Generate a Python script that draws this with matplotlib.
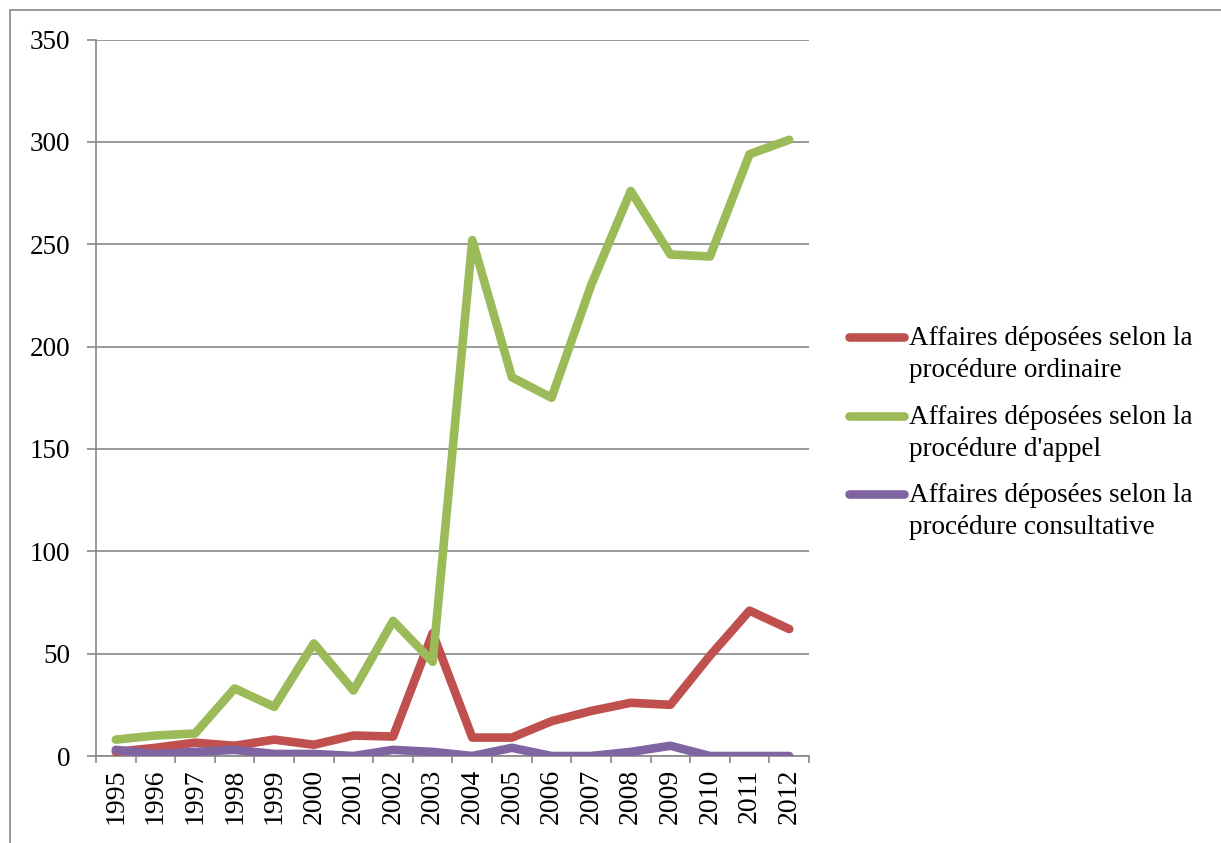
import numpy as np
import matplotlib.pyplot as plt
from matplotlib.lines import Line2D
from matplotlib.patches import Rectangle

years = [str(y) for y in range(1995, 2013)]
ordinaire = [2, 4, 6.5, 5, 8, 5.5, 10, 9.5, 60, 9, 9, 17, 22, 26, 25, 49, 71, 62]
appel = [8, 10, 11, 33, 24, 55, 32, 66, 46, 252, 185, 175, 230, 276, 245, 244, 294, 301]
consultative = [3, 1, 2, 3, 1, 1, 0, 3, 2, 0, 4, 0, 0, 2, 5, 0, 0, 0]

labels = [("Affaires déposées selon la", "procédure ordinaire"),
          ("Affaires déposées selon la", "procédure d'appel"),
          ("Affaires déposées selon la", "procédure consultative")]
colors = ["#C0504D", "#9BBB59", "#8064A2"]

plt.rcParams['font.family'] = ['Liberation Serif', 'DejaVu Serif']
W, H = 1221, 843
fig = plt.figure(figsize=(W / 100, H / 100), dpi=100)
ax = fig.add_axes([96 / W, 1 - 756 / H, (809 - 96) / W, (756 - 39.5) / H])

# outer chart frame
fig.add_artist(Rectangle((10 / W, -0.05), 1.2, 1 - 10 / H + 0.05, transform=fig.transFigure,
                         fill=False, edgecolor="#888888", linewidth=1.2))

x = np.arange(len(years))
for vals, c in zip([ordinaire, appel, consultative], colors):
    ax.plot(x, vals, color=c, linewidth=6.2, solid_capstyle='round',
            solid_joinstyle='round', zorder=3)

ax.set_xlim(-0.5, len(years) - 0.5)
ax.set_ylim(0, 350)
ax.set_yticks(np.arange(0, 351, 50))
ax.yaxis.grid(True, color="#888888", linewidth=1.2)
ax.set_axisbelow(True)
ax.set_xticks(np.arange(-0.5, len(years), 1), minor=False)
ax.set_xticklabels([])
ax.set_xticks(x, minor=True)
ax.set_xticklabels(years, minor=True, rotation=90, fontsize=20)
ax.tick_params(axis='x', which='major', length=5, color="#888888", width=1.2)
ax.tick_params(axis='x', which='minor', length=0, pad=9)
ax.tick_params(axis='y', length=6.5, color="#888888", width=1.2, labelsize=19.5, pad=12)
for s in ['top', 'right']:
    ax.spines[s].set_visible(False)
for s in ['left', 'bottom']:
    ax.spines[s].set_color("#888888")
    ax.spines[s].set_linewidth(1.2)

# legend, handle aligned with first text line
for i, ((l1, l2), c) in enumerate(zip(labels, colors)):
    yh = 337 + i * 78.5
    fig.add_artist(Line2D([849 / W, 904 / W], [1 - yh / H] * 2, transform=fig.transFigure,
                          color=c, linewidth=6.2, solid_capstyle='round'))
    fig.text(909 / W, 1 - (yh + 8) / H, l1, fontsize=19.5, va='baseline', ha='left')
    fig.text(909 / W, 1 - (yh + 40) / H, l2, fontsize=19.5, va='baseline', ha='left')

fig.savefig("out.png", dpi=100)
